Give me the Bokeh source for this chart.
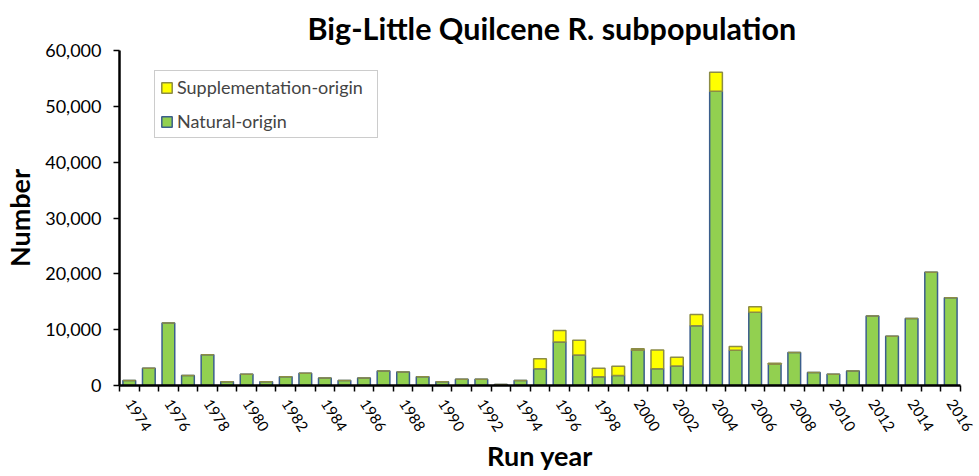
from bokeh.plotting import figure
from bokeh.models import (Range1d, FixedTicker, NumeralTickFormatter, Legend, LegendItem)
from bokeh.embed import file_html
from bokeh.resources import INLINE

years = list(range(1974, 2017))
natural = [900, 3100, 11200, 1800, 5500, 650, 2000, 650, 1550, 2200,
           1350, 900, 1350, 2600, 2400, 1550, 650, 1100, 1100, 200,
           900, 3000, 7800, 5450, 1550, 1800, 6300, 3000, 3500, 10700,
           52700, 6300, 13100, 3800, 5900, 2350, 2000, 2600, 12450, 8800,
           12000, 20300, 15700]
supplementation = [0, 0, 0, 0, 0, 0, 0, 0, 0, 0,
                   0, 0, 0, 0, 0, 0, 0, 0, 0, 0,
                   0, 1800, 2050, 2650, 1550, 1650, 300, 3350, 1550, 2000,
                   3400, 700, 1000, 200, 0, 0, 0, 0, 0, 0,
                   0, 0, 0]
total = [n + s for n, s in zip(natural, supplementation)]
label_years = list(range(1974, 2017, 2))
y_ticks = list(range(0, 60001, 10000))

FONT = "Lato"

p = figure(width=979, height=474, output_backend="svg", toolbar_location=None,
           x_range=Range1d(1973.5, 2016.5), y_range=Range1d(0, 60000),
           min_border_left=118, min_border_right=19, min_border_top=50, min_border_bottom=88)
p.outline_line_color = None
p.grid.visible = False
p.background_fill_color = "white"

w = 0.65
r_nat = p.vbar(x=years, top=natural, bottom=0, width=w,
               fill_color="#92D050", line_color="#3B5E8C", line_width=1.5)
r_sup = p.vbar(x=years, top=total, bottom=natural, width=w,
               fill_color="#FFFF00", line_color="#8C8C45", line_width=1.5)

p.title.text = "Big-Little Quilcene R. subpopulation"
p.title.align = "left"
p.title.offset = 188
p.title.vertical_align = "top"
p.title.text_font = FONT
p.title.text_font_size = "30.5px"
p.title.text_font_style = "bold"
p.title.text_color = "black"
p.title.standoff = 6

xa = p.xaxis[0]
xa.ticker = FixedTicker(ticks=label_years, minor_ticks=[y - 0.5 for y in years] + [2016.5])
xa.formatter = NumeralTickFormatter(format="0")
xa.major_tick_out = 0
xa.major_tick_in = 0
xa.minor_tick_out = 6
xa.minor_tick_in = 0
xa.minor_tick_line_color = "black"
xa.minor_tick_line_width = 1.5
xa.axis_line_color = "black"
xa.axis_line_width = 2.5
xa.major_label_orientation = -1.0
xa.major_label_text_font = FONT
xa.major_label_text_font_size = "15px"
xa.major_label_text_color = "black"
xa.major_label_standoff = 9
xa.axis_label = "Run year"
xa.axis_label_text_font = FONT
xa.axis_label_text_font_size = "27px"
xa.axis_label_text_font_style = "bold"
xa.axis_label_text_color = "black"
xa.axis_label_standoff = 0

ya = p.yaxis[0]
ya.ticker = FixedTicker(ticks=y_ticks)
ya.formatter = NumeralTickFormatter(format="0,0")
ya.major_tick_out = 6
ya.major_tick_in = 0
ya.minor_tick_out = 0
ya.minor_tick_in = 0
ya.major_tick_line_color = "black"
ya.major_tick_line_width = 1.5
ya.axis_line_color = "black"
ya.axis_line_width = 2.5
ya.major_label_text_font = FONT
ya.major_label_text_font_size = "18px"
ya.major_label_text_color = "black"
ya.major_label_standoff = 12
ya.axis_label = "Number"
ya.axis_label_text_font = FONT
ya.axis_label_text_font_size = "27px"
ya.axis_label_text_font_style = "bold"
ya.axis_label_text_color = "black"
ya.axis_label_standoff = 6

legend = Legend(items=[LegendItem(label="Supplementation-origin", renderers=[r_sup]),
                       LegendItem(label="Natural-origin", renderers=[r_nat])],
                location=(35, 247))
legend.label_text_font = FONT
legend.label_text_font_size = "18px"
legend.border_line_color = "#9a9a9a"
legend.border_line_width = 1
legend.glyph_width = 13
legend.glyph_height = 13
legend.label_height = 20
legend.label_width = 195
legend.spacing = 12
legend.padding = 5
legend.label_standoff = 4
legend.margin = 0
p.add_layout(legend, "center")

open("out.html", "w").write(file_html(p, INLINE))
